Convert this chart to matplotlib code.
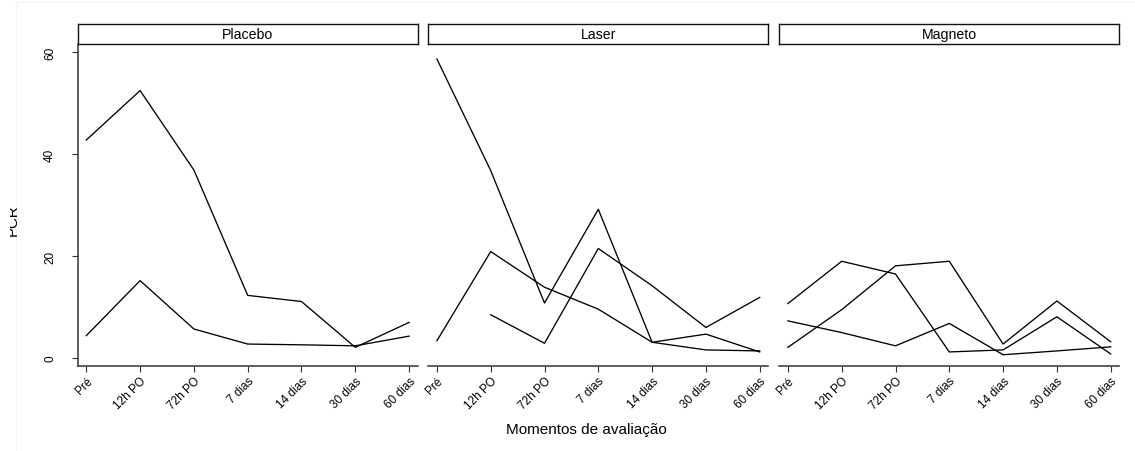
import numpy as np
import matplotlib
matplotlib.use("Agg")
import matplotlib.pyplot as plt
from matplotlib.transforms import Bbox, TransformedBbox, IdentityTransform
from matplotlib.lines import Line2D

plt.rcParams['font.family'] = ['Liberation Sans', 'DejaVu Sans']

moments = ["Pré", "12h PO", "72h PO", "7 dias", "14 dias", "30 dias", "60 dias"]
groups = ["Placebo", "Laser", "Magneto"]

placebo_1 = [42.8, 52.5, 36.9, 12.3, 11.1, 2.1, 7.0]
placebo_2 = [4.4, 15.2, 5.7, 2.75, 2.6, 2.4, 4.3]

laser_1 = [58.7, 36.8, 10.8, 29.2, 3.1, 4.7, 1.2]
laser_2 = [3.4, 20.9, 13.9, 9.6, 3.1, 1.6, 1.4]
laser_3 = [np.nan, 8.5, 2.9, 21.5, 14.2, 6.0, 11.9]

magneto_1 = [10.7, 19.0, 16.5, 1.2, 1.6, 8.1, 0.8]
magneto_2 = [2.1, 9.5, 18.1, 19.0, 2.75, 11.2, 3.2]
magneto_3 = [7.3, 5.0, 2.4, 6.8, 0.65, 1.4, 2.2]

series = {
    "Placebo": [placebo_1, placebo_2],
    "Laser": [laser_1, laser_2, laser_3],
    "Magneto": [magneto_1, magneto_2, magneto_3],
}
yticks = [0, 20, 40, 60]

W, H = 1135, 452
fig = plt.figure(figsize=(W / 100, H / 100), dpi=100)

def frac(x0, y0, x1, y1):
    # pixel box (top-left origin) -> figure fraction [l, b, w, h]
    return [x0 / W, 1 - y1 / H, (x1 - x0) / W, (y1 - y0) / H]

# faint outer region border
fig.add_artist(Line2D([16 / W, 16 / W], [0, 1 - 3.3 / H], transform=fig.transFigure,
                      color='#f3f3f3', lw=0.8))
fig.add_artist(Line2D([16 / W, 1], [1 - 3.3 / H, 1 - 3.3 / H], transform=fig.transFigure,
                      color='#f3f3f3', lw=0.8))

lefts = [77.7, 428.3, 779.3]
pw = 340
top, bottom = 44.7, 366.7
strip_top = 25.3
x = np.arange(len(moments))
spine_col = '#333333'

for i, g in enumerate(groups):
    l = lefts[i]
    ax = fig.add_axes(frac(l, top, l + pw, bottom))
    for s in series[g]:
        ax.plot(x, s, color='black', lw=0.95)
    ax.set_xlim(-0.16, 6.16)
    ax.set_ylim(-1.5, 61.7)
    ax.set_xticks(x)
    ax.set_xticklabels(moments, rotation=45, ha='right', rotation_mode='anchor',
                       fontsize=8.5)
    for sp in ['top', 'right']:
        ax.spines[sp].set_visible(False)
    ax.spines['bottom'].set_color(spine_col)
    ax.spines['bottom'].set_linewidth(1.1)
    ax.tick_params(axis='x', length=4.5, width=0.8, color=spine_col, pad=2)
    if i == 0:
        ax.spines['left'].set_color(spine_col)
        ax.spines['left'].set_linewidth(1.1)
        ax.set_yticks(yticks)
        ax.set_yticklabels([str(v) for v in yticks], rotation=90, va='center',
                           fontsize=8.5)
        ax.tick_params(axis='y', length=4.5, width=0.8, color=spine_col, pad=11)
    else:
        ax.spines['left'].set_visible(False)
        ax.set_yticks([])
    # strip
    sax = fig.add_axes(frac(l, strip_top, l + pw, top))
    sax.set_xticks([])
    sax.set_yticks([])
    for sp in sax.spines.values():
        sp.set_color('#111111')
        sp.set_linewidth(1.0)
    sax.text(0.5, 0.48, g, ha='center', va='center', fontsize=10.2, transform=sax.transAxes)

# axis titles
fig.text(586.5 / W, 1 - 430 / H, "Momentos de avaliação", ha='center', va='center',
         fontsize=11)
t = fig.text(16.7 / W, 1 - 220 / H, "PCR", rotation=90, ha='center', va='baseline',
             fontsize=10.8, rotation_mode='anchor')
t.set_clip_box(TransformedBbox(Bbox([[10, 0], [W, H]]), IdentityTransform()))
t.set_clip_on(True)

fig.savefig("out.png", dpi=100)
